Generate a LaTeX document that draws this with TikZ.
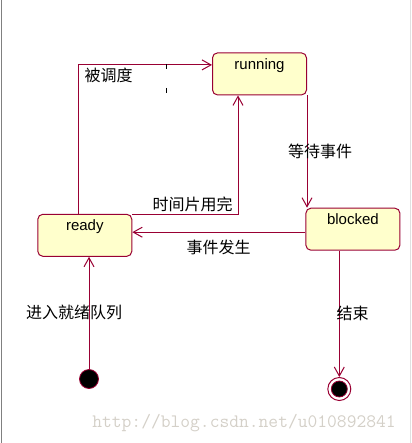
\documentclass[tikz,border=0pt]{standalone}
\usepackage{fontspec}
\setmainfont{Liberation Sans}
\newfontfamily\cjk{Noto Sans CJK SC}
\usetikzlibrary{arrows.meta}

\definecolor{linea}{RGB}{153,0,51}
\definecolor{relleno}{RGB}{255,255,204}
\definecolor{marcagris}{RGB}{212,208,200}

\tikzset{
  estado/.style={draw=linea, fill=relleno, line width=1pt, rounded corners=5pt,
    minimum width=94pt, minimum height=42pt, inner sep=3pt,
    text height=13.5pt, text depth=22.5pt, font=\fontsize{15}{18}\selectfont},
  trans/.style={draw=linea, line width=1pt, -{Straight Barb[length=9pt,width=10pt]}},
  etiqueta/.style={font=\cjk\fontsize{16}{18}\selectfont, inner sep=0pt},
  inicio/.style={circle, fill=black, draw=linea, line width=0.8pt, minimum size=19pt, inner sep=0pt},
  fin/.style={circle, draw=linea, line width=1pt, minimum size=23pt, inner sep=0pt}
}

\begin{document}
\begin{tikzpicture}[x=1pt,y=-1pt]
\useasboundingbox (0,0) rectangle (411,443);

%bordes de la captura
\draw [gray,line width=1.5pt] (1.5,0) -- (1.5,443);
\draw [black!12,line width=1pt] (410.5,0) -- (410.5,443);

%estados
\node[estado] (running) at (259.5,73.9) {running};
\node[estado] (ready) at (84.8,235.3) {ready};
\node[estado] (blocked) at (352.9,229.2) {blocked};

%estado inicial y final
\node[inicio] (ini) at (89,379) {};
\node[fin] (fin) at (339.3,389) {};
\filldraw [fill=black,draw=linea,line width=0.8pt] (fin.center) circle (8pt);

%transiciones entre estados
\draw [trans] ([xshift=-6.5pt]ready.north) |- ([yshift=9pt]running.west);
\draw [trans] ([yshift=-1pt]ready.north east) -| ([xshift=-21.5pt]running.south);
\draw [trans] (running.south east) -- (running.south east |- blocked.north);
\draw [trans] ([yshift=-3pt]blocked.west) -- ([yshift=-3pt]blocked.west -| ready.east);
\draw [trans] (ini) -- (ini |- ready.south);
\draw [trans] (blocked.south -| fin) -- (fin);

%marcas sueltas
\draw [black,line width=1pt] (166,64) -- (166,69) (166,88) -- (166,93);

%etiquetas de las transiciones
\node[etiqueta] (lDespacho) at (108.5,75) {被调度};
\node[etiqueta] (lQuantum) at (192.5,204.5) {时间片用完};
\node[etiqueta] (lEspera) at (320,151.5) {等待事件};
\node[etiqueta] (lSuceso) at (218.5,247.5) {事件发生};
\node[etiqueta] (lCola) at (74,312.5) {进入就绪队列};
\node[etiqueta] (lFin) at (352.5,313.5) {结束};

%marca de agua
\node[font=\ttfamily\fontsize{19}{20}\selectfont,text=marcagris] (marca) at (244,423) {http://blog.csdn.net/u010892841};
\end{tikzpicture}
\end{document}
